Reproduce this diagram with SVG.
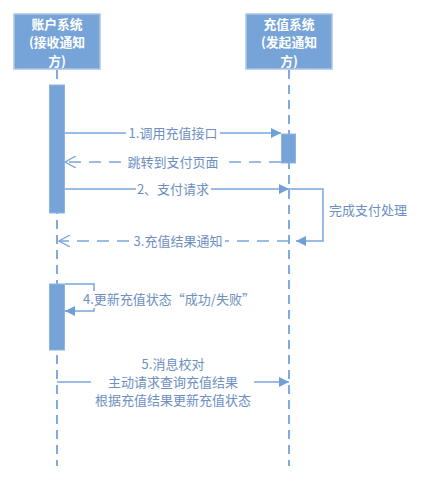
<svg xmlns="http://www.w3.org/2000/svg" width="442" height="483" viewBox="0 0 442 483">
<style>
.box{fill:#77a4d8;stroke:#aac5e7;stroke-width:1.5}
.title{font-family:"Noto Sans CJK SC","Liberation Sans",sans-serif;font-size:12.8px;font-weight:bold;fill:#ffffff;text-anchor:middle}
.life{stroke:#7fabdd;stroke-width:2;stroke-dasharray:9 6;fill:none}
.bar{fill:#77a4d8;stroke:#8fb4e0;stroke-width:1}
.msg{stroke:#7aa7dc;stroke-width:1.5;fill:none}
.ret{stroke:#7aa7dc;stroke-width:1.5;fill:none;stroke-dasharray:12 8}
.lbl{font-family:"Noto Sans CJK SC","Liberation Sans",sans-serif;font-size:13px;fill:#6d8fc2}
.mid{text-anchor:middle}
.bg{fill:#ffffff}
</style>
<defs>
<marker id="solid" viewBox="0 0 10 10" refX="10" refY="5" markerWidth="10" markerHeight="10" markerUnits="userSpaceOnUse" orient="auto">
<path d="M0,0 L10,5 L0,10 Z" fill="#6f9fd8"/>
</marker>
<marker id="open" viewBox="0 0 12 12" refX="11" refY="6" markerWidth="12" markerHeight="12" markerUnits="userSpaceOnUse" orient="auto">
<path d="M0,0 L11,6 L0,12" fill="none" stroke="#7aa7dc" stroke-width="1.3"/>
</marker>
</defs>

<g id="lifelines">
<line class="life" x1="57" y1="70" x2="57" y2="466"/>
<line class="life" x1="289" y1="70" x2="289" y2="466"/>
</g>

<g id="node-account">
<rect class="box" x="14" y="14" width="86" height="55"/>
<text class="title" x="57" y="28.5">账户系统</text>
<text class="title" x="57" y="47">(接收通知</text>
<text class="title" x="57" y="65.5">方)</text>
</g>

<g id="node-recharge">
<rect class="box" x="246" y="14" width="86" height="55"/>
<text class="title" x="289" y="28.5">充值系统</text>
<text class="title" x="289" y="47">(发起通知</text>
<text class="title" x="289" y="65.5">方)</text>
</g>

<g id="activations">
<rect class="bar" x="49.5" y="85" width="15" height="128"/>
<rect class="bar" x="281.5" y="134" width="14" height="29"/>
<rect class="bar" x="49.5" y="284" width="15" height="66"/>
</g>

<g id="connectors">
<line class="msg" x1="65" y1="133" x2="281" y2="133" marker-end="url(#solid)"/>
<line class="ret" x1="281" y1="162" x2="65" y2="162" marker-end="url(#open)"/>
<line class="msg" x1="65" y1="189" x2="289" y2="189" marker-end="url(#solid)"/>
<polyline class="msg" points="289,189 323,189 323,241 296,241" marker-end="url(#solid)"/>
<line class="ret" x1="289" y1="241" x2="59" y2="241" marker-end="url(#open)"/>
<polyline class="msg" points="65,284 94,284 94,311 65,311" marker-end="url(#solid)"/>
<line class="msg" x1="57" y1="382" x2="289" y2="382" marker-end="url(#solid)"/>
</g>

<g id="labels">
<rect class="bg" x="126" y="125" width="94" height="17"/>
<text class="lbl mid" x="173" y="138">1.调用充值接口</text>
<rect class="bg" x="125" y="154" width="97" height="17"/>
<text class="lbl mid" x="173" y="167">跳转到支付页面</text>
<rect class="bg" x="136" y="181" width="75" height="17"/>
<text class="lbl mid" x="173" y="194">2、支付请求</text>
<text class="lbl" x="329" y="215">完成支付处理</text>
<rect class="bg" x="130" y="233" width="95" height="17"/>
<text class="lbl mid" x="178" y="246">3.充值结果通知</text>
<rect class="bg" x="82" y="291" width="170" height="17"/>
<text class="lbl" x="83" y="304">4.更新充值状态“成功/失败”</text>
<rect class="bg" x="91" y="355" width="163" height="54"/>
<text class="lbl mid" x="173" y="369">5.消息校对</text>
<text class="lbl mid" x="173" y="387">主动请求查询充值结果</text>
<text class="lbl mid" x="173" y="405">根据充值结果更新充值状态</text>
</g>
</svg>
